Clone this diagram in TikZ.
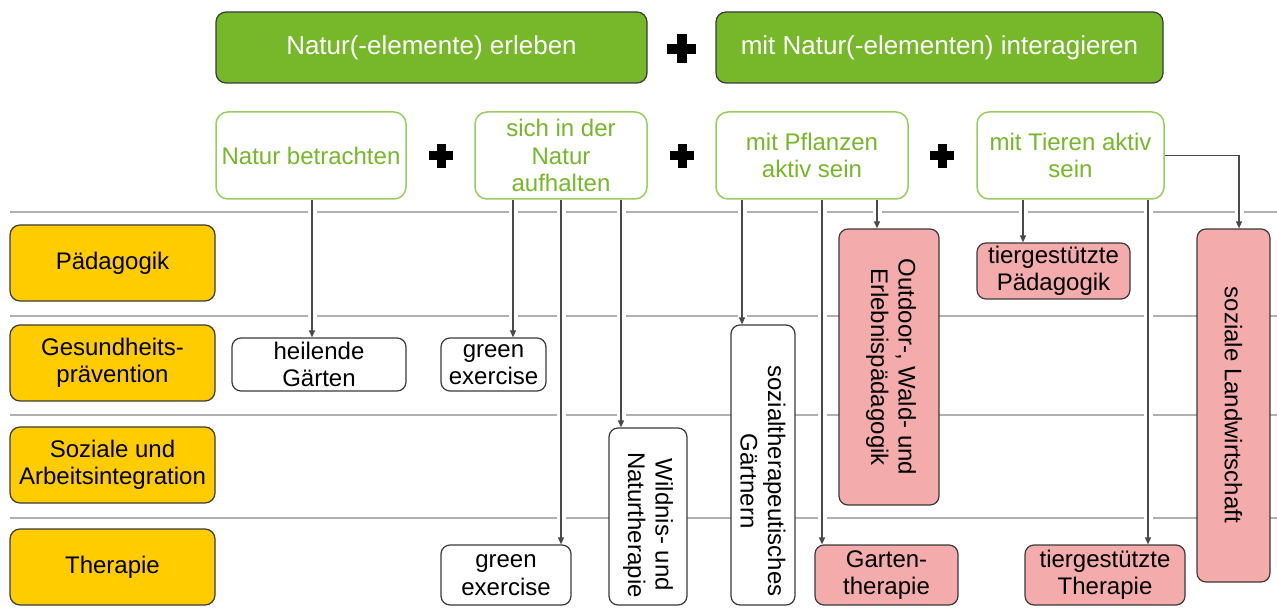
\documentclass[tikz,border=0pt]{standalone}
\usepackage{fontspec}
\setmainfont{Liberation Sans}
\usetikzlibrary{arrows.meta}
\definecolor{dgreen}{HTML}{76B82A}
\definecolor{lgreen}{HTML}{9ACD5E}
\definecolor{tgreen}{HTML}{76B82A}
\definecolor{yel}{HTML}{FFCC00}
\definecolor{pnk}{HTML}{F4ABAB}
\definecolor{hline}{HTML}{B0B0B0}
\definecolor{cline}{HTML}{4A4A4A}
\definecolor{bord}{HTML}{3A3A3A}
\pgfdeclarelayer{bg}
\pgfsetlayers{bg,main}
\newcommand\pluscross[4]{%
  \fill (#1-#3,#2-#4) rectangle (#1+#3,#2+#4);
  \fill (#1-#4,#2-#3) rectangle (#1+#4,#2+#3);}
\begin{document}
\begin{tikzpicture}[x=1pt,y=-1pt,
  every node/.style={font=\fontsize{24}{27.5}\selectfont, inner sep=0pt, align=center},
  topbox/.style={draw=bord, line width=1.2pt, fill=dgreen, text=white, rounded corners=10pt,
    font=\fontsize{26}{30}\selectfont},
  actbox/.style={draw=lgreen, line width=1.5pt, fill=white, text=tgreen, rounded corners=12pt},
  fieldbox/.style={draw=bord, line width=1.2pt, fill=yel, rounded corners=10pt},
  wbox/.style={draw=bord, line width=1.2pt, fill=white, rounded corners=9pt},
  pbox/.style={draw=bord, line width=1.2pt, fill=pnk, rounded corners=9pt},
  conn/.style={draw=cline, line width=1.2pt, -{Triangle[length=7pt,width=6pt]},
    preaction={draw=white, line width=9pt, arrows=-}},
  sepline/.style={draw=hline, line width=2pt},
  vtext/.style={rotate=-90}]
\useasboundingbox (0,0) rectangle (1277,609);

% top boxes
\node[topbox, minimum width=431pt, minimum height=71pt] (g1) at (431.5,47.5) {Natur(-elemente) erleben};
\node[topbox, minimum width=447pt, minimum height=71pt] (g2) at (939.5,47.5) {mit Natur(-elementen) interagieren};

% activity boxes
\node[actbox, minimum width=190pt, minimum height=87pt] (nb) at (311,155.5) {Natur betrachten};
\node[actbox, minimum width=172pt, minimum height=87pt] (sn) at (561,155.5) {sich in der\\Natur\\aufhalten};
\node[actbox, minimum width=192pt, minimum height=87pt] (mp) at (812,155.5) {mit Pflanzen\\aktiv sein};
\node[actbox, minimum width=187pt, minimum height=87pt] (mt) at (1070.5,155.5) {mit Tieren aktiv\\sein};

% plus signs
\pluscross{681.5}{49}{14.5}{5}
\pluscross{441}{156}{12}{4.5}
\pluscross{682}{156}{12}{4.5}
\pluscross{942}{156}{12}{4.5}

% fields
\node[fieldbox, minimum width=205pt, minimum height=76pt] (fp) at (112.5,263) {Pädagogik};
\node[fieldbox, minimum width=205pt, minimum height=76pt] (fg) at (112.5,363) {Gesundheits-\\prävention};
\node[fieldbox, minimum width=205pt, minimum height=76pt] (fs) at (112.5,465) {Soziale und\\Arbeitsintegration};
\node[fieldbox, minimum width=205pt, minimum height=76pt] (ft) at (112.5,567) {Therapie};

% white boxes
\node[wbox, minimum width=174pt, minimum height=53pt] (hg) at (319,364.5) {heilende\\Gärten};
\node[wbox, minimum width=105pt, minimum height=53pt] (ge1) at (493.5,364.5) {green\\exercise};
\node[wbox, minimum width=130pt, minimum height=60pt] (ge2) at (506,575) {green\\exercise};
\node[wbox, minimum width=78pt, minimum height=177pt] (wn) at (648,516.5) {};
\node[vtext] (wnt) at (648,525) {Wildnis- und\\Naturtherapie};
\node[wbox, minimum width=64pt, minimum height=280pt] (sg) at (763,465) {};
\node[vtext] (sgt) at (763,481) {sozialtherapeutisches\\Gärtnern};

% pink boxes
\node[pbox, minimum width=100pt, minimum height=276pt] (ow) at (889,367) {};
\node[vtext] (owt) at (891,367) {Outdoor-, Wald- und\\Erlebnispädagogik};
\node[pbox, minimum width=143pt, minimum height=60pt] (gt) at (886.5,575) {Garten-\\therapie};
\node[pbox, minimum width=153pt, minimum height=56pt] (tp) at (1053.5,271) {tiergestützte\\Pädagogik};
\node[pbox, minimum width=160pt, minimum height=60pt] (tt) at (1105,575) {tiergestützte\\Therapie};
\node[pbox, minimum width=73pt, minimum height=353pt] (sl) at (1233.5,405.5) {};
\node[vtext] (slt) at (1233.5,405) {soziale Landwirtschaft};

\begin{pgfonlayer}{bg}
  \draw[sepline] (10,212) -- (1277,212);
  \draw[sepline] (10,316) -- (1277,316);
  \draw[sepline] (10,415) -- (1277,415);
  \draw[sepline] (10,518) -- (1277,518);

  \draw[conn] ([xshift=1pt]nb.south) -- ([xshift=1pt]nb.south |- hg.north);
  \draw[conn] ([xshift=-48pt]sn.south) -- ([xshift=-48pt]sn.south |- ge1.north);
  \draw[conn] (sn.south) -- (sn.south |- ge2.north);
  \draw[conn] ([xshift=60pt]sn.south) -- ([xshift=60pt]sn.south |- wn.north);
  \draw[conn] ([xshift=-70pt]mp.south) -- ([xshift=-70pt]mp.south |- sg.north);
  \draw[conn] ([xshift=10pt]mp.south) -- ([xshift=10pt]mp.south |- gt.north);
  \draw[conn] ([xshift=65pt]mp.south) -- ([xshift=65pt]mp.south |- ow.north);
  \draw[conn] ([xshift=-47.5pt]mt.south) -- ([xshift=-47.5pt]mt.south |- tp.north);
  \draw[conn] ([xshift=77.5pt]mt.south) -- ([xshift=77.5pt]mt.south |- tt.north);
  \draw[conn] (mt.east) -| ([xshift=5.5pt]sl.north);
\end{pgfonlayer}
\end{tikzpicture}
\end{document}
